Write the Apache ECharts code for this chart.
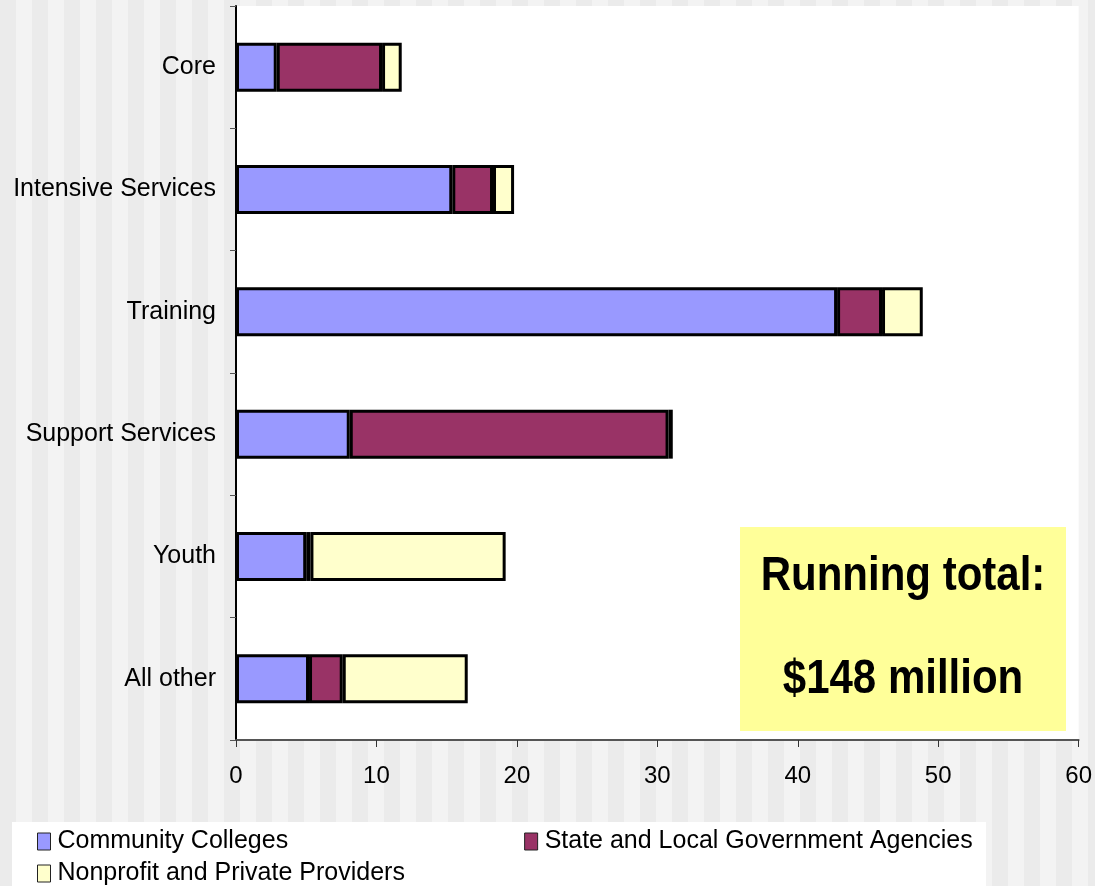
<!DOCTYPE html>
<html>
<head>
<meta charset="utf-8">
<script src="https://cdn.jsdelivr.net/npm/echarts@6/dist/echarts.min.js"></script>
<style>
html,body{margin:0;padding:0;}
body{background:repeating-linear-gradient(90deg,#ebebeb 0px,#ebebeb 16px,#f3f3f3 16px,#f3f3f3 32px);}
#c{width:1095px;height:886px;}
</style>
</head>
<body>
<div id="c"></div>
<script>
const categories = ['Core', 'Intensive Services', 'Training', 'Support Services', 'Youth', 'All other'];
const communityColleges = [2.9, 15.4, 42.8, 8.1, 5.0, 5.2];
const stateLocalGov = [7.5, 2.9, 3.2, 22.7, 0.3, 2.4];
const nonprofitPrivate = [1.4, 1.5, 2.9, 0.3, 13.9, 8.9];
const xTicks = { min: 0, max: 60, interval: 10 };
const seriesNames = ['Community Colleges', 'State and Local Government Agencies', 'Nonprofit and Private Providers'];
const colors = ['#9999ff', '#993366', '#ffffcc'];
const boxLines = ['Running total:', '$148 million'];

const font = 'Liberation Sans, Arial, sans-serif';
const chart = echarts.init(document.getElementById('c'));

function mk(name, data, color) {
  return {
    name: name, type: 'bar', stack: 'total', data: data, barWidth: '40%',
    itemStyle: { color: color, borderColor: '#000', borderWidth: 3 },
    emphasis: { disabled: true }
  };
}

const legendCommon = {
  itemWidth: 13, itemHeight: 17, icon: 'rect',
  itemStyle: { borderWidth: 1, borderColor: '#222' },
  textStyle: { fontSize: 25, fontFamily: font, color: '#000', padding: [0, 0, 0, 2] },
  padding: 0, selectedMode: false
};

chart.setOption({
  animation: false,
  backgroundColor: 'transparent',
  color: colors,
  grid: { left: 236, right: 13, top: 6, bottom: 146, show: true, backgroundColor: '#ffffff', borderWidth: 0, containLabel: false },
  xAxis: {
    type: 'value', min: xTicks.min, max: xTicks.max, interval: xTicks.interval,
    splitLine: { show: false },
    axisLine: { show: true, lineStyle: { color: '#555', width: 2 } },
    axisTick: { show: true, length: 7, lineStyle: { color: '#333', width: 1 } },
    axisLabel: { color: '#000', fontSize: 24, fontFamily: font, margin: 24 }
  },
  yAxis: {
    type: 'category', data: categories, inverse: true,
    axisLine: { show: true, lineStyle: { color: '#000', width: 2 } },
    axisTick: { show: true, length: 6, lineStyle: { color: '#555', width: 1 } },
    axisLabel: { color: '#000', fontSize: 25, fontFamily: font, margin: 20 }
  },
  legend: [
    Object.assign({ data: [seriesNames[0], seriesNames[1]], left: 37, top: 829, itemGap: 236 }, legendCommon),
    Object.assign({ data: [seriesNames[2]], left: 37, top: 861 }, legendCommon)
  ],
  graphic: [
    { type: 'rect', left: 12, top: 822, z: -1, shape: { width: 974, height: 64 }, style: { fill: '#ffffff' } },
    { type: 'rect', left: 740, top: 527, z: 10, shape: { width: 326, height: 204 }, style: { fill: '#ffff99' } },
    { type: 'text', z: 11, x: 903, y: 577, scaleY: 1.15, style: { text: boxLines[0], font: 'bold 42px ' + font, fill: '#000', align: 'center', verticalAlign: 'middle' } },
    { type: 'text', z: 11, x: 903, y: 680, scaleY: 1.15, style: { text: boxLines[1], font: 'bold 42px ' + font, fill: '#000', align: 'center', verticalAlign: 'middle' } }
  ],
  series: [
    mk(seriesNames[0], communityColleges, colors[0]),
    mk(seriesNames[1], stateLocalGov, colors[1]),
    mk(seriesNames[2], nonprofitPrivate, colors[2])
  ]
});
</script>
</body>
</html>
